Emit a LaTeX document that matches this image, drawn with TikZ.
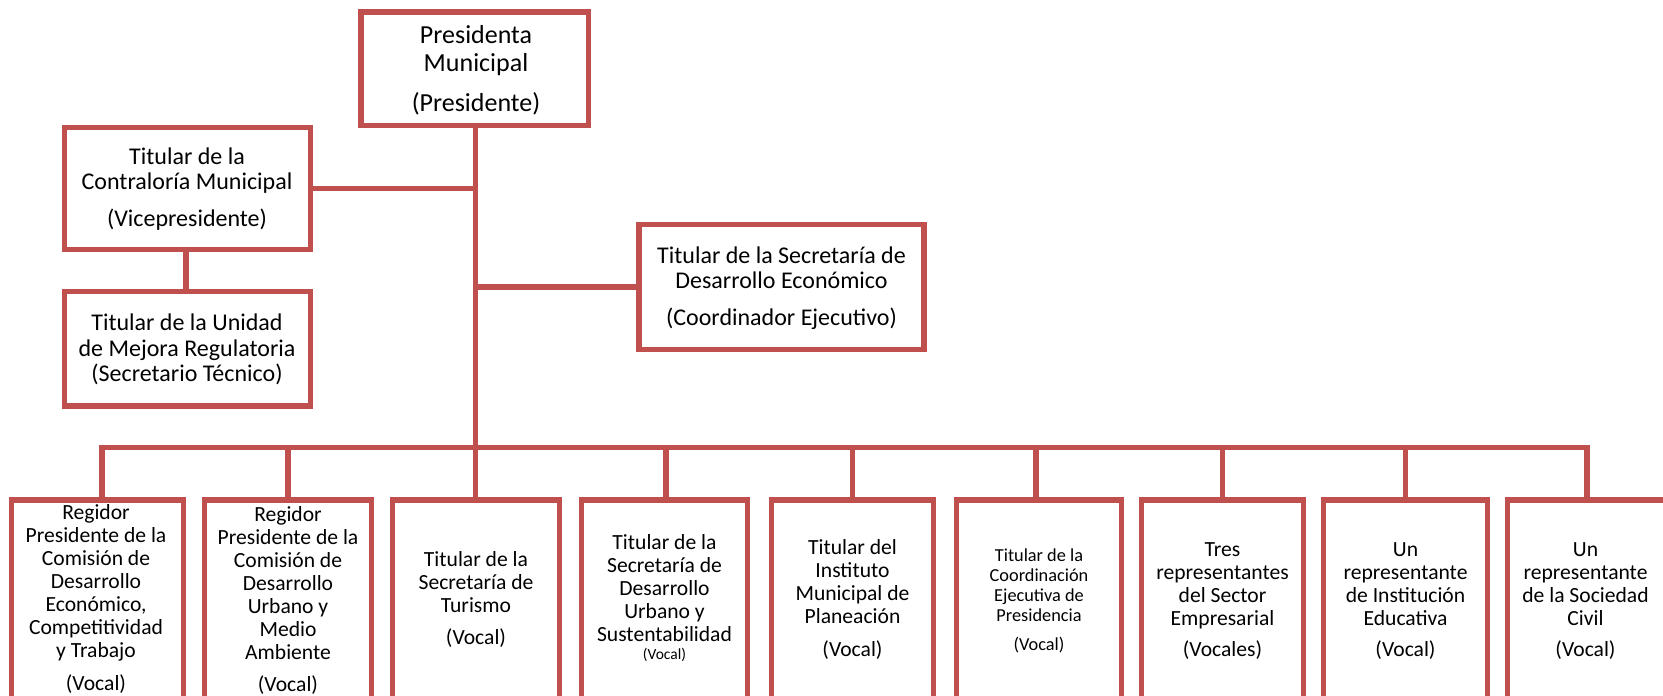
\documentclass[tikz,border=0pt]{standalone}
\usepackage{fontspec}
\setmainfont{Carlito}
\definecolor{orgred}{HTML}{C0504D}
\begin{document}
\begin{tikzpicture}[x=1pt,y=-1pt,
  box/.style={draw=orgred, line width=5.5pt, rectangle, inner sep=0pt},
  link/.style={draw=orgred, line width=5.2pt},
  txt/.style={align=center, inner sep=0pt, anchor=north, text=black},
  fbig/.style={font=\fontsize{26}{28}\selectfont},
  fmid/.style={font=\fontsize{24}{25}\selectfont},
  fsmall/.style={font=\fontsize{21.6}{23}\selectfont},
  ftiny/.style={font=\fontsize{18.3}{20}\selectfont}]
\useasboundingbox (0,0) rectangle (1663,696);
\clip (0,0) rectangle (1663,696);

% top boxes
\node[box, minimum width=227.5pt, minimum height=113.5pt] (pres) at (474.75,68.75) {};
\node[box, minimum width=246pt, minimum height=122pt] (contra) at (187.5,188.5) {};
\node[box, minimum width=246pt, minimum height=114.5pt] (unidad) at (187.5,348.75) {};
\node[box, minimum width=285pt, minimum height=125pt] (sde) at (781.5,287) {};

% bottom boxes
\node[box, minimum width=172pt, minimum height=220pt] (b1) at (97.5,610) {};
\node[box, minimum width=167pt, minimum height=220pt] (b2) at (288,610) {};
\node[box, minimum width=167pt, minimum height=220pt] (b3) at (476,610) {};
\node[box, minimum width=166pt, minimum height=220pt] (b4) at (664.5,610) {};
\node[box, minimum width=162pt, minimum height=220pt] (b5) at (852.5,610) {};
\node[box, minimum width=165pt, minimum height=220pt] (b6) at (1039,610) {};
\node[box, minimum width=162pt, minimum height=220pt] (b7) at (1222.5,610) {};
\node[box, minimum width=164pt, minimum height=220pt] (b8) at (1405.5,610) {};
\node[box, minimum width=172.5pt, minimum height=220pt] (b9) at (1593.75,610) {};

% texts
\node[txt, fbig] (tpres) at (476,23.7) {\strut Presidenta\\ Municipal\\[12pt] (Presidente)};
\node[txt, fmid] (tcontra) at (187,147.2) {\strut Titular de la\\ Contraloría Municipal\\[12pt] (Vicepresidente)};
\node[txt, font=\fontsize{24}{25.5}\selectfont] (tunidad) at (187,312.9) {\strut Titular de la Unidad\\ de Mejora Regulatoria\\ (Secretario Técnico)};
\node[txt, fmid] (tsde) at (781.5,246.2) {\strut Titular de la Secretaría de\\ Desarrollo Económico\\[12pt] (Coordinador Ejecutivo)};

\node[txt, fsmall] (t1) at (96,503.6) {\strut Regidor\\ Presidente de la\\ Comisión de\\ Desarrollo\\ Económico,\\ Competitividad\\ y Trabajo\\[10pt] (Vocal)};
\node[txt, fsmall] (t2) at (288,505.6) {\strut Regidor\\ Presidente de la\\ Comisión de\\ Desarrollo\\ Urbano y\\ Medio\\ Ambiente\\[9pt] (Vocal)};
\node[txt, fsmall] (t3) at (476,550.6) {\strut Titular de la\\ Secretaría de\\ Turismo\\[9pt] (Vocal)};
\node[txt, fsmall] (t4) at (664.5,533.6) {\strut Titular de la\\ Secretaría de\\ Desarrollo\\ Urbano y\\ Sustentabilidad\\[-5pt] {\fontsize{15.5}{16}\selectfont (Vocal)}};
\node[txt, fsmall] (t5) at (852.5,538.6) {\strut Titular del\\ Instituto\\ Municipal de\\ Planeación\\[10pt] (Vocal)};
\node[txt, ftiny] (t6) at (1039,546.8) {\strut Titular de la\\ Coordinación\\ Ejecutiva de\\ Presidencia\\[9pt] (Vocal)};
\node[txt, fsmall] (t7) at (1222.5,540.6) {\strut Tres\\ representantes\\ del Sector\\ Empresarial\\[8pt] (Vocales)};
\node[txt, fsmall] (t8) at (1405.5,540.6) {\strut Un\\ representante\\ de Institución\\ Educativa\\[8pt] (Vocal)};
\node[txt, fsmall] (t9) at (1585.5,540.6) {\strut Un\\ representante\\ de la Sociedad\\ Civil\\[8pt] (Vocal)};

% connectors
\coordinate (bus) at (0,447.5);
\draw[link] ([xshift=1pt]pres.south) -- ([xshift=1pt]pres.south |- b3.north);
\draw[link] (contra.east) -- (contra.east -| pres.south);
\draw[link] ([xshift=-1.5pt]contra.south) -- ([xshift=-1.5pt]unidad.north);
\draw[link] (sde.west) -- (sde.west -| pres.south);
\draw[link] ([xshift=4.5pt]b1.north) -- ([xshift=4.5pt]b1.north |- bus)
  -- ([xshift=-6.75pt]b9.north |- bus) -- ([xshift=-6.75pt]b9.north);
\draw[link] (b2.north) -- (b2.north |- bus);
\draw[link] ([xshift=1.5pt]b4.north) -- ([xshift=1.5pt]b4.north |- bus);
\draw[link] (b5.north) -- (b5.north |- bus);
\draw[link] ([xshift=-3pt]b6.north) -- ([xshift=-3pt]b6.north |- bus);
\draw[link] (b7.north) -- (b7.north |- bus);
\draw[link] (b8.north) -- (b8.north |- bus);
\end{tikzpicture}
\end{document}
